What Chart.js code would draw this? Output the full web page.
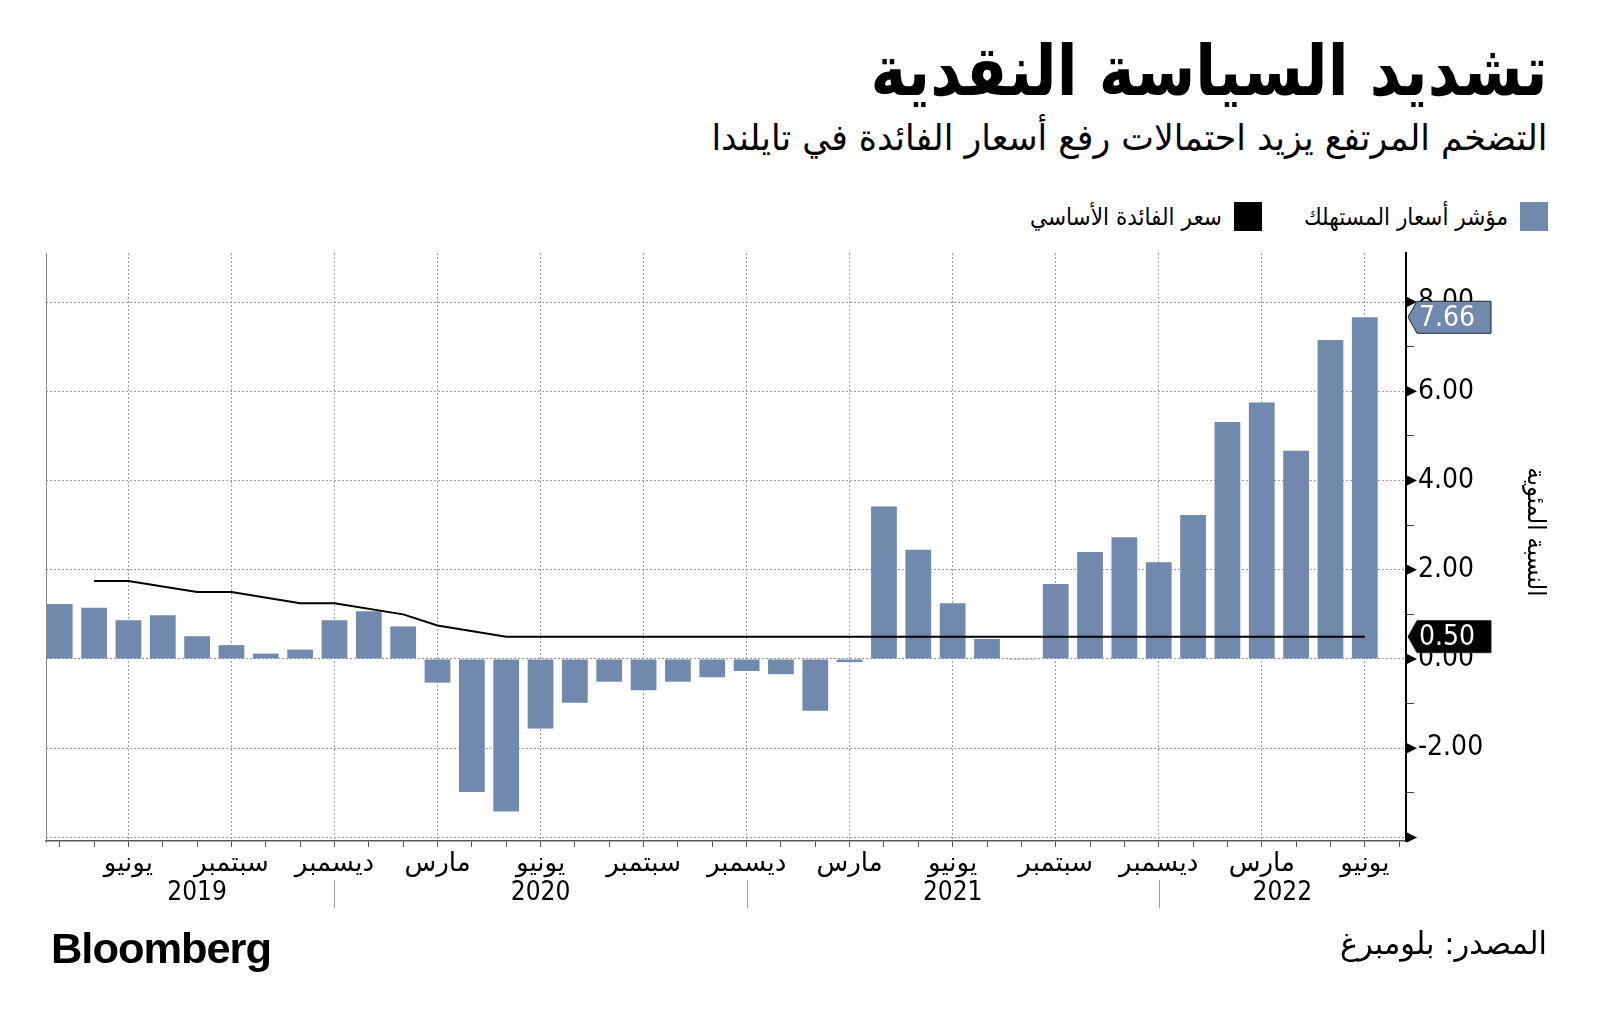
<!DOCTYPE html>
<html lang="ar">
<head>
<meta charset="utf-8">
<script src="https://cdn.jsdelivr.net/npm/chart.js@4.4.1/dist/chart.umd.min.js"></script>
<style>
  body { margin: 0; width: 1600px; height: 1027px; background: #fff; position: relative; overflow: hidden; font-family: "DejaVu Sans", sans-serif; color: #000; }
  .fit { position: absolute; white-space: nowrap; transform-origin: right top; line-height: 1; }
  #title { right: 53px; top: 36px; font-size: 70px; font-weight: bold; }
  #subtitle { right: 53px; top: 120px; font-size: 36px; }
  #source { right: 53px; top: 928px; font-size: 31px; }
  #logo { left: 51px; top: 928px; font-family: "Liberation Sans", Arial, sans-serif; font-weight: bold; font-size: 42px; letter-spacing: -1px; transform-origin: left top; }
  #legend { position: absolute; right: 52px; top: 202px; display: flex; direction: rtl; align-items: center; gap: 42px; font-family: "DejaVu Sans Condensed", "DejaVu Sans", sans-serif; font-size: 24px; }
  #legend .item { display: flex; align-items: center; gap: 12px; }
  #legend .box { width: 28px; height: 29px; }
  #chartWrap { position: absolute; left: 0; top: 240px; width: 1600px; height: 690px; }
</style>
</head>
<body>
<div id="title" class="fit" data-w="677">تشديد السياسة النقدية</div>
<div id="subtitle" class="fit" data-w="836">التضخم المرتفع يزيد احتمالات رفع أسعار الفائدة في تايلندا</div>
<div id="legend"></div>
<div id="chartWrap"><canvas id="inflationChart" width="1600" height="690"></canvas></div>
<div id="source" class="fit" data-w="207">المصدر: بلومبرغ</div>
<div id="logo" class="fit" data-w="220">Bloomberg</div>

<script>
// Months shown on the chart (one bar per month)
const categories = [
    '2019-04', '2019-05', '2019-06', '2019-07', '2019-08', '2019-09', '2019-10', '2019-11', '2019-12',
    '2020-01', '2020-02', '2020-03', '2020-04', '2020-05', '2020-06', '2020-07', '2020-08', '2020-09', '2020-10', '2020-11', '2020-12',
    '2021-01', '2021-02', '2021-03', '2021-04', '2021-05', '2021-06', '2021-07', '2021-08', '2021-09', '2021-10', '2021-11', '2021-12',
    '2022-01', '2022-02', '2022-03', '2022-04', '2022-05', '2022-06'
];

// Consumer price index, year on year %
const cpi = [
    1.23, 1.15, 0.87, 0.98, 0.51, 0.31, 0.12, 0.21, 0.87,
    1.07, 0.73, -0.53, -2.98, -3.42, -1.56, -0.98, -0.51, -0.70, -0.51, -0.41, -0.27,
    -0.34, -1.16, -0.07, 3.42, 2.45, 1.25, 0.45, -0.02, 1.68, 2.40, 2.73, 2.17,
    3.23, 5.31, 5.75, 4.67, 7.15, 7.66
];

// Policy rate %, null where the line just runs straight between readings
const policyRate = [
    null, 1.75, 1.75, null, 1.50, 1.50, null, 1.25, 1.25,
    null, 1.00, 0.75, null, 0.50, 0.50, 0.50, 0.50, 0.50, 0.50, 0.50, 0.50,
    0.50, 0.50, 0.50, 0.50, 0.50, 0.50, 0.50, 0.50, 0.50, 0.50, 0.50, 0.50,
    0.50, 0.50, 0.50, 0.50, 0.50, 0.50
];

// Month names used as axis labels
const monthNames = { '03': 'مارس', '06': 'يونيو', '09': 'سبتمبر', '12': 'ديسمبر' };

const yMajorTicks = [-4, -2, 0, 2, 4, 6, 8];
const yMinorTicks = [-3, -1, 1, 3, 5, 7];

const seriesNames = ['مؤشر أسعار المستهلك', 'سعر الفائدة الأساسي'];
const yAxisTitle = 'النسبة المئوية';

const BAR_COLOR = '#7189ad';
const LINE_COLOR = '#000000';
const NUM_FONT = '"DejaVu Sans Condensed", "DejaVu Sans", sans-serif';

// Fit the headline texts to the widths of the original layout
document.querySelectorAll('.fit').forEach(el => {
    const w = el.getBoundingClientRect().width;
    el.style.transform = 'scaleX(' + (el.dataset.w / w) + ')';
});

// Legend
const legendEl = document.getElementById('legend');
[[seriesNames[0], BAR_COLOR], [seriesNames[1], LINE_COLOR]].forEach(([name, color]) => {
    const item = document.createElement('div');
    item.className = 'item';
    item.innerHTML = '<div class="box" style="background:' + color + '"></div><span>' + name + '</span>';
    legendEl.appendChild(item);
});

function monthLabel(i) {
    const c = categories[i];
    if (!c) return '';
    return monthNames[c.slice(5)] || '';
}

function drawFlag(ctx, x, y, text, fill) {
    const h = 32, w = 83, tip = 9;
    ctx.save();
    ctx.beginPath();
    ctx.moveTo(x, y);
    ctx.lineTo(x + tip, y - h / 2);
    ctx.lineTo(x + w, y - h / 2);
    ctx.lineTo(x + w, y + h / 2);
    ctx.lineTo(x + tip, y + h / 2);
    ctx.closePath();
    ctx.fillStyle = fill;
    ctx.fill();
    ctx.strokeStyle = '#222';
    ctx.lineWidth = 1;
    ctx.stroke();
    ctx.fillStyle = '#fff';
    ctx.font = '28px ' + NUM_FONT;
    ctx.textAlign = 'left';
    ctx.textBaseline = 'middle';
    ctx.fillText(text, x + 11, y + 1);
    ctx.restore();
}

// Extra decorations: left edge, tick arrows, axis title, year row and last value flags
const decorations = {
    id: 'decorations',
    afterDraw(chart) {
        const { ctx, chartArea, scales: { x, y } } = chart;
        ctx.save();

        // left edge of the plot
        ctx.strokeStyle = '#8a8a8a';
        ctx.lineWidth = 1;
        ctx.beginPath();
        ctx.moveTo(chartArea.left + 0.5, chartArea.top);
        ctx.lineTo(chartArea.left + 0.5, chartArea.bottom + 2);
        ctx.stroke();

        // arrow markers on the value axis
        ctx.fillStyle = '#000';
        yMajorTicks.forEach(v => {
            const py = y.getPixelForValue(v);
            ctx.beginPath();
            ctx.moveTo(y.left + 1, py - 5);
            ctx.lineTo(y.left + 11, py);
            ctx.lineTo(y.left + 1, py + 5);
            ctx.closePath();
            ctx.fill();
        });

        // value axis title, reading top to bottom
        ctx.save();
        ctx.translate(y.left + 128, chartArea.top + 279);
        ctx.rotate(Math.PI / 2);
        ctx.font = '25px ' + NUM_FONT;
        ctx.textAlign = 'center';
        ctx.textBaseline = 'middle';
        ctx.fillText(yAxisTitle, 0, 0);
        ctx.restore();

        // years below the month labels
        const years = [...new Set(categories.map(c => c.slice(0, 4)))];
        const rowY = chartArea.bottom + 52;
        ctx.font = '26px ' + NUM_FONT;
        ctx.textAlign = 'center';
        ctx.textBaseline = 'middle';
        let start = 0;
        years.forEach((yr, k) => {
            const last = categories.lastIndexOf(categories.filter(c => c.startsWith(yr)).pop());
            const isFinal = k === years.length - 1;
            const end = isFinal ? x.max : last;
            const cx = x.getPixelForValue((start + end) / 2);
            ctx.fillStyle = '#000';
            ctx.fillText(yr, cx, rowY);
            if (!isFinal) {
                const sx = Math.round(x.getPixelForValue(last)) + 0.5;
                ctx.strokeStyle = '#9a9a9a';
                ctx.lineWidth = 1;
                ctx.beginPath();
                ctx.moveTo(sx, rowY - 13);
                ctx.lineTo(sx, rowY + 15);
                ctx.stroke();
            }
            start = last;
        });
        ctx.restore();

        // last value flags
        const lastCpi = cpi[cpi.length - 1];
        const lastRate = policyRate[policyRate.length - 1];
        drawFlag(ctx, y.left + 2, y.getPixelForValue(lastCpi), lastCpi.toFixed(2), BAR_COLOR);
        drawFlag(ctx, y.left + 2, y.getPixelForValue(lastRate), lastRate.toFixed(2), '#000');
    }
};

const ctx = document.getElementById('inflationChart');

new Chart(ctx.getContext('2d'), {
    type: 'bar',
    data: {
        datasets: [{
            type: 'line',
            label: seriesNames[1],
            data: policyRate.map((v, i) => ({ x: i, y: v })),
            borderColor: LINE_COLOR,
            borderWidth: 2,
            pointRadius: 0,
            tension: 0,
            spanGaps: true,
            order: 0
        }, {
            type: 'bar',
            label: seriesNames[0],
            data: cpi.map((v, i) => ({ x: i, y: v })),
            backgroundColor: BAR_COLOR,
            borderWidth: 0,
            barPercentage: 0.75,
            categoryPercentage: 1.0,
            order: 1
        }]
    },
    options: {
        responsive: false,
        animation: false,
        layout: {
            padding: { top: 13, left: 46, right: 0, bottom: 0 }
        },
        plugins: {
            legend: { display: false },
            tooltip: { enabled: false }
        },
        scales: {
            x: {
                type: 'linear',
                min: -0.4,
                max: 39.2,
                offset: false,
                afterBuildTicks: scale => {
                    const ticks = [];
                    for (let i = 0; i <= categories.length; i++) ticks.push({ value: i });
                    scale.ticks = ticks;
                },
                afterFit: scale => {
                    scale.height = 89;
                    scale.paddingLeft = 0;
                    scale.paddingRight = 0;
                },
                grid: {
                    offset: false,
                    color: c => (c.tick && monthLabel(c.tick.value)) ? '#9c9c9c' : 'rgba(0,0,0,0)',
                    lineWidth: 1,
                    drawTicks: true,
                    tickLength: 6,
                    tickColor: '#555',
                    tickWidth: 1,
                    tickBorderDash: []
                },
                border: {
                    display: true,
                    color: '#555',
                    width: 1.5,
                    dash: [2, 2]
                },
                ticks: {
                    autoSkip: false,
                    maxRotation: 0,
                    padding: 2,
                    color: '#000',
                    font: { family: '"DejaVu Sans", sans-serif', size: 26 },
                    callback: v => monthLabel(v)
                }
            },
            y: {
                position: 'right',
                min: -4.08,
                max: 9.1,
                afterBuildTicks: scale => {
                    scale.ticks = yMajorTicks.concat(yMinorTicks).sort((a, b) => a - b).map(v => ({ value: v }));
                },
                afterFit: scale => {
                    scale.width = 194;
                    scale.paddingTop = 0;
                    scale.paddingBottom = 0;
                },
                grid: {
                    color: c => (c.tick && yMajorTicks.includes(c.tick.value)) ? '#9c9c9c' : 'rgba(0,0,0,0)',
                    lineWidth: 1,
                    drawTicks: true,
                    tickLength: 8,
                    tickColor: c => (c.tick && yMinorTicks.includes(c.tick.value)) ? '#444' : 'rgba(0,0,0,0)',
                    tickBorderDash: []
                },
                border: {
                    display: true,
                    color: '#000',
                    width: 2,
                    dash: [2, 2]
                },
                ticks: {
                    padding: 4,
                    color: '#000',
                    font: { family: NUM_FONT, size: 28 },
                    callback: v => (yMajorTicks.includes(v) && v !== -4) ? v.toFixed(2) : ''
                }
            }
        }
    },
    plugins: [decorations]
});
</script>
</body>
</html>
